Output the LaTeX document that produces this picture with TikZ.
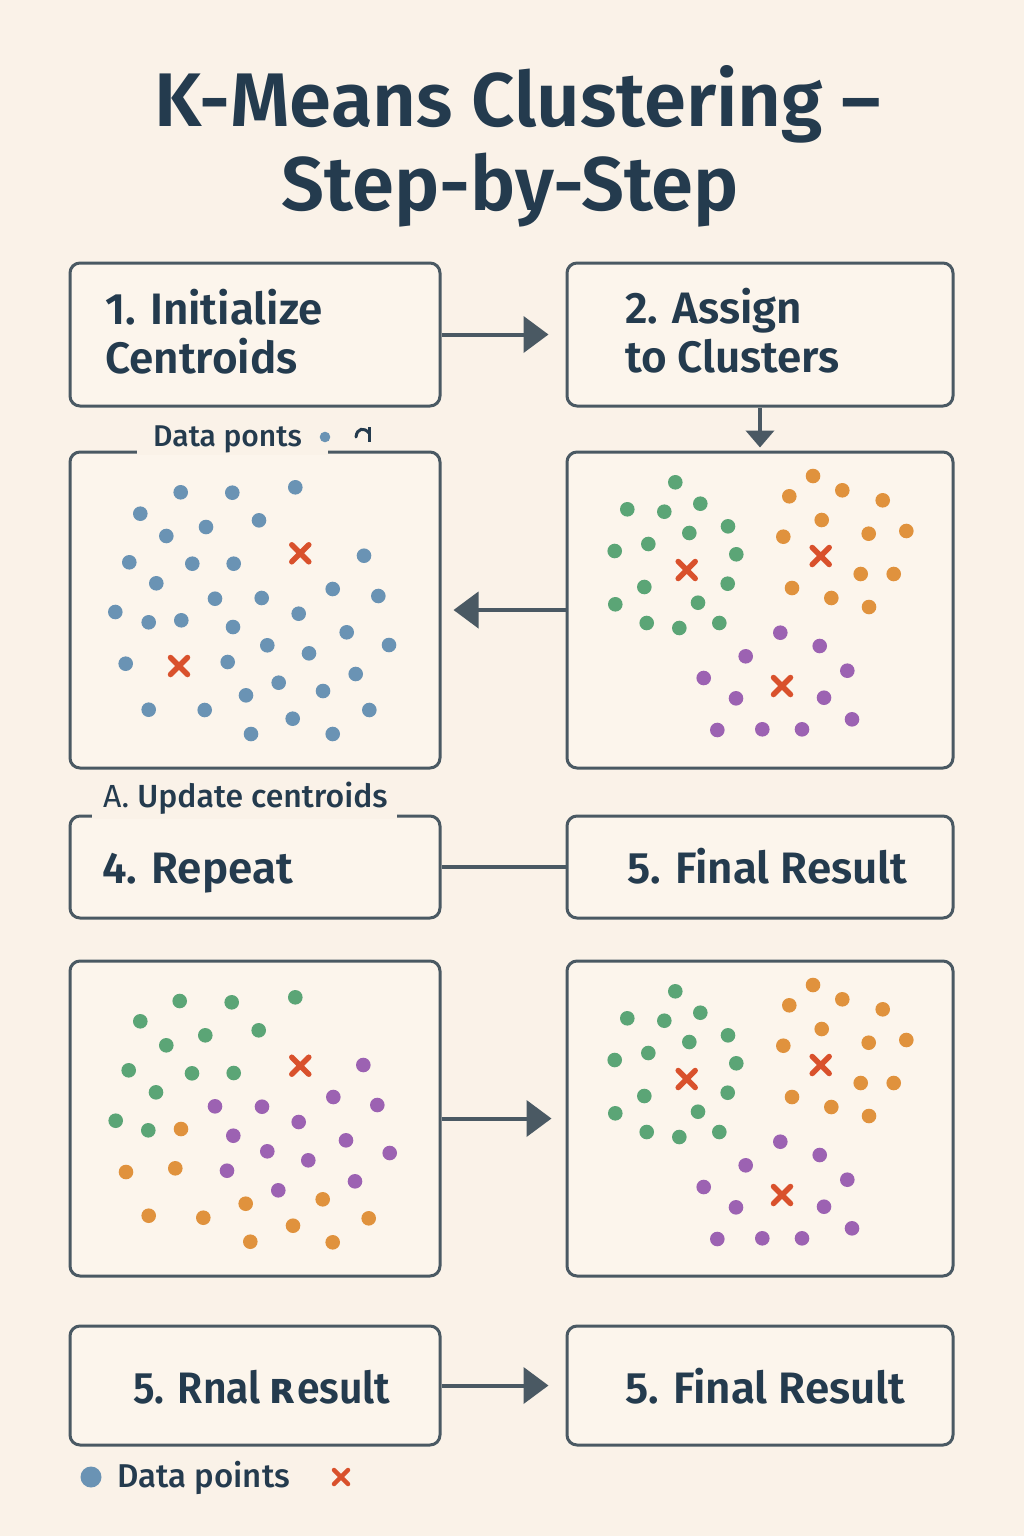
\documentclass[tikz,border=0pt]{standalone}
\usepackage{fontspec}
\setmainfont{Fira Sans}
\newfontfamily\fsb{Fira Sans SemiBold}
\newfontfamily\fmed{Fira Sans Medium}
\newfontfamily\dejavu{DejaVu Sans}
\usetikzlibrary{arrows.meta}
\definecolor{bgc}{HTML}{FAF2E8}
\definecolor{boxfill}{HTML}{FCF5EC}
\definecolor{strokec}{HTML}{4A5963}
\definecolor{txtc}{HTML}{243B4E}
\definecolor{dblue}{HTML}{6A93B4}
\definecolor{dgreen}{HTML}{5BA576}
\definecolor{dorange}{HTML}{E0923D}
\definecolor{dpurple}{HTML}{9C62B2}
\definecolor{crossc}{HTML}{D9512C}
\tikzset{
  kbox/.style={draw=strokec, fill=boxfill, line width=3pt, rounded corners=10pt, inner sep=0pt},
  arr/.style={draw=strokec, line width=4pt, -{Triangle[length=25pt,width=36pt]}},
  arrsmall/.style={draw=strokec, line width=4pt, -{Triangle[length=17pt,width=28pt]}},
  plainline/.style={draw=strokec, line width=4pt},
  boxtxt/.style={text=txtc, font=\fsb\fontsize{44}{48}\selectfont, anchor=base west, inner sep=0pt},
  smalltxt/.style={text=txtc, font=\fmed\fontsize{30}{32}\selectfont, anchor=base west, inner sep=0pt},
  titletxt/.style={text=txtc, font=\fsb\fontsize{76}{80}\selectfont, anchor=base, inner sep=0pt},
  crs/.style={draw=crossc, line width=5.5pt, line cap=round},
}
\newcommand\kmcross[2]{\draw[crs] (#1,#2) ++(-8.5,-8.5) -- ++(17,17) ++(0,-17) -- ++(-17,17);}
\begin{document}
\begin{tikzpicture}[x=1pt,y=-1pt]
\useasboundingbox (0,0) rectangle (1024,1536);
\fill[bgc] (0,0) rectangle (1024,1536);

% title
\node[titletxt] (title1) at (518,127) {K-Means Clustering –};
\node[titletxt] (title2) at (510.5,210) {Step-by-Step};

% boxes
\node[kbox, minimum width=370pt, minimum height=143pt] (b1) at (255,334.5) {};
\node[kbox, minimum width=386pt, minimum height=143pt] (b2) at (760,334.5) {};
\node[kbox, minimum width=370pt, minimum height=316pt] (p1) at (255,610) {};
\node[kbox, minimum width=386pt, minimum height=316pt] (p2) at (760,610) {};
\node[kbox, minimum width=370pt, minimum height=102pt] (b4) at (255,867) {};
\node[kbox, minimum width=386pt, minimum height=102pt] (b5) at (760,867) {};
\node[kbox, minimum width=370pt, minimum height=315pt] (p3) at (255,1118.5) {};
\node[kbox, minimum width=386pt, minimum height=315pt] (p4) at (760,1118.5) {};
\node[kbox, minimum width=370pt, minimum height=119pt] (b6) at (255,1385.5) {};
\node[kbox, minimum width=386pt, minimum height=119pt] (b7) at (760,1385.5) {};

% gaps in borders for labels
\fill[bgc] (137,449.5) rectangle (328,454.5);
\fill[bgc] (92,813.5) rectangle (397,818.5);

% connectors
\draw[arr, shorten >=17pt] (b1) -- (b2);
\draw[arrsmall, shorten >=3pt] (b2) -- (p2);
\draw[arr, shorten >=12pt] (p2) -- (p1);
\draw[plainline] (b4) -- (b5);
\draw[arr, shorten >=14pt] (p3) -- (p4);
\draw[arr, shorten >=17pt] (b6) -- (b7);

% box texts
\node[boxtxt] (t1a) at (105,324) {1. Initialize};
\node[boxtxt] (t1b) at (105,373) {Centroids};
\node[boxtxt] (t2a) at (625,323) {2. Assign};
\node[boxtxt] (t2b) at (625,372) {to Clusters};
\node[boxtxt] (t4) at (102,883) {4. Repeat};
\node[boxtxt] (t5) at (627,883) {5. Final Result};
\node[boxtxt] (t6) at (133,1403) {\scalebox{0.93}[1]{5. Rnal {\dejavu\bfseries ʀ}esult}};
\node[boxtxt] (t7) at (625,1403) {5. Final Result};

% small labels
\node[smalltxt] (l1) at (153,446) {Data ponts};
\fill[dblue] (325,437) circle (5.3);
\draw[txtc, line width=3pt] (369,427) -- (369,442);
\draw[txtc, line width=3pt, line cap=round] (356,437) .. controls (357,428) and (364,427) .. (369,433);
\node[smalltxt, font=\fmed\fontsize{32}{34}\selectfont] (l2) at (103,807) {{\fontspec{Fira Sans}A.} Update centroids};

% legend
\fill[dblue] (91,1477) circle (10.5);
\node[smalltxt, font=\fmed\fontsize{33}{35}\selectfont] (leg) at (117,1487) {Data points};
\draw[crs, line width=4.5pt] (341,1477) ++(-7,-7) -- ++(14,14) ++(0,-14) -- ++(-14,14);

% panel 1: blue points
\foreach \x/\y in {180.7/492.3,232.3/492.7,295.3/487.3,140.3/513.7,206/527,259/520.3,166.3/536,
  129.3/562.3,192.3/563.7,233.7/563.7,364/555.7,156.3/583.3,215/598.7,261.7/598,332.7/589,378.3/596,
  115.3/612,148.7/622.3,181.3/620.3,298.7/613.7,233/627,346.7/632.3,267.3/645.3,389/645,309/653.3,
  125.7/663.7,227.7/662,355.7/674,278.7/682.7,323/691,246/695.3,148.7/709.7,204.7/710,369.3/710,
  292.7/718.7,251/734,332.7/734}
  {\fill[dblue] (\x,\y) circle (7.3);}
\kmcross{300.3}{553.3}
\kmcross{179}{666}

% panels 2 and 4: clustered
\foreach \sh in {0,509}{
\begin{scope}[shift={(0,\sh)}]
\foreach \x/\y in {675.3/482.3,627.3/509.3,664.3/511.7,700.3/503.7,689.3/533,728/526.3,648.3/544,
  614.7/551,736.3/554.3,644.3/587,727.7/583.7,615.3/604.3,698/602.7,646.7/623,679.3/628,719.3/623}
  {\fill[dgreen] (\x,\y) circle (7.3);}
\foreach \x/\y in {813/476,789.3/496.3,842.3/490.3,882.7/500.3,821.7/520,783.3/536.7,868.7/533.7,
  906.3/531,860.7/574,893.7/574,792/588,831.3/598,869/607}
  {\fill[dorange] (\x,\y) circle (7.3);}
\foreach \x/\y in {780.3/632.7,819.7/646,745.7/656.3,847.3/670.7,703.7/678,736/698.3,824/697.7,
  852/719.3,717.3/730,762.3/729.3,802/729.3}
  {\fill[dpurple] (\x,\y) circle (7.3);}
\kmcross{686.7}{570}
\kmcross{820.7}{556}
\kmcross{782}{686}
\end{scope}
}

% panel 3: reassigned
\foreach \x/\y in {179.7/1001,231.7/1002.3,295.3/997.3,140.3/1021.3,205.3/1035.3,258.7/1030.3,
  166.3/1045.3,128.7/1070.3,192/1073.3,233.7/1073,156/1092.3,115.7/1120.7,148.3/1130.3}
  {\fill[dgreen] (\x,\y) circle (7.3);}
\foreach \x/\y in {363.3/1065,333.3/1097,377.3/1105,215/1106.3,262/1106.7,298.7/1122,233.3/1135.7,
  346/1140.3,267.3/1151.3,389.7/1153,308.3/1160.3,227/1170.7,355/1181.3,278.3/1190.3}
  {\fill[dpurple] (\x,\y) circle (7.3);}
\foreach \x/\y in {181/1129,126/1172,175.3/1168.3,245.7/1203.7,322.7/1199.3,148.7/1215.7,
  203.3/1217.7,368.7/1218.3,293/1225.7,250.3/1241.7,332.7/1242.3}
  {\fill[dorange] (\x,\y) circle (7.3);}
\kmcross{300.3}{1065.7}
\end{tikzpicture}
\end{document}
